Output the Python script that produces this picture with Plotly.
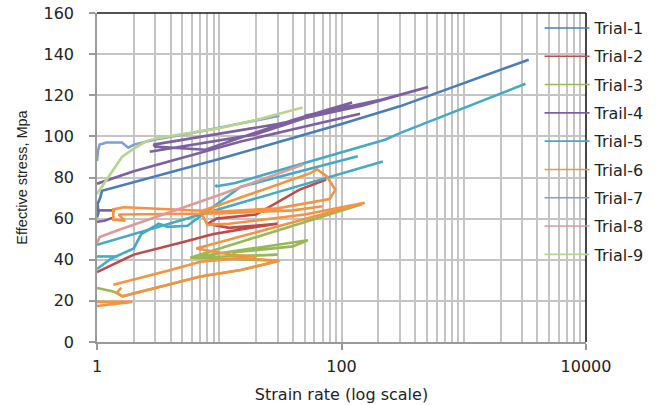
import plotly.graph_objects as go

# ---- data: strain rate (1/s) vs effective stress (MPa) per trial ----
# None separates disconnected pieces of the same trial record
trial1_rate = [1, 1.03, 1.01, 1.06, 1.1, 10, 100, 300, 3400]
trial1_stress = [60.5, 63, 67, 70, 73.5, 89, 106, 114.6, 137.3]

trial2_rate = [1, 1.5, 2, 5, 9, 20, 30, 12, 8, 9.5, 20, 45, 75]
trial2_stress = [34, 39, 42.5, 48.5, 52.5, 56, 57.5, 55.5, 57.5, 60, 62, 74, 79]

trial3_rate = [1, 1.36, 1.62, 7, 15, 31, 5.8, 53, 40, 13, 14, 30, 5.8, 147]
trial3_stress = [26.3, 24.6, 22.2, 31.9, 35, 39.5, 41, 49.5, 46.5, 43.5, 41.5, 42.5, 41, 67]

trial4_rate = [1, 1.15, 1.35, None, 1, 1.4, None,
               1, 2, 15, 60, 142, None,
               2.7, 20, 122, 40, 7.7, 3, 2.9, 30, 150, 511, 200, 50]
trial4_stress = [58.5, 59, 60.5, None, 64, 64, None,
                 77, 83, 97.5, 106, 111, None,
                 92.5, 101, 116.5, 108, 93.5, 95, 96, 106, 115, 124, 117.5, 110]

trial5_rate = [1, 1.46, None,
               1, 1.3, 2, 2.3, 3.2, 3.8, 5.5, 15, 136, None,
               1, 218, None,
               9.3, 9.5, 13.5, 227, 300, 3200]
trial5_stress = [41.6, 41.6, None,
                 35.5, 40.5, 45.5, 52.5, 57.5, 56, 56.5, 75.5, 90.3, None,
                 47.3, 87.8, None,
                 76.5, 75.7, 77.3, 98.4, 101.6, 125.6]

trial6_rate = [1, 1.95, 1, None,
               1.58, 1.45, 1.62, 7, 15, 31, 15, 7, 4, 1.36, None,
               20, 13, 6.5, 155, 50, 12, 8, 7, 55, 63, 76, 89, 80, 30, 10,
               1.65, 1.36, 1.36, 1.7, 1.5, 10, 40, 70]
trial6_stress = [17.5, 19.5, 19.5, None,
                 26.4, 24, 22.2, 31.9, 35, 39.5, 40.8, 39, 35, 27.8, None,
                 41.5, 42.3, 45.5, 67.7, 62, 57.5, 57, 63.5, 82, 84, 80.5, 74, 69.5, 65, 63.5,
                 65.5, 64.5, 59.5, 59, 62, 62.5, 64, 66]

trial7_rate = [1, 1.02, 1.05, 1.2, 1.6, 1.8, 2, 3, 7, 31]
trial7_stress = [88, 93, 96, 97, 97, 94.5, 96, 98.5, 102.4, 110]

trial8_rate = [1, 1.05, 1.5, 2.6, 10, 48.7]
trial8_stress = [48, 51, 54.5, 59.5, 71.5, 86.3]

trial9_rate = [1, 1.3, 1.6, 2, 2.5, 3, 5, 10, 20, 48]
trial9_stress = [72, 82, 90, 94, 97.5, 99, 101, 104, 108, 114]

trial_names = ["Trial-1", "Trial-2", "Trial-3", "Trail-4", "Trial-5",
               "Trial-6", "Trial-7", "Trial-8", "Trial-9"]
trial_rates = [trial1_rate, trial2_rate, trial3_rate, trial4_rate, trial5_rate,
               trial6_rate, trial7_rate, trial8_rate, trial9_rate]
trial_stresses = [trial1_stress, trial2_stress, trial3_stress, trial4_stress, trial5_stress,
                  trial6_stress, trial7_stress, trial8_stress, trial9_stress]
trial_colors = ["#4a7ebb", "#be4b48", "#98b954", "#7d60a0", "#46aac5",
                "#f69240", "#7f9fd4", "#dd9a98", "#b9d48f"]

x_tick_vals = [1, 100, 10000]
x_tick_text = ["1", "100", "10000"]
y_tick_vals = [0, 20, 40, 60, 80, 100, 120, 140, 160]

# every 1..9 x 10^k line that is not a labelled tick
x_minor_vals = [m * 10 ** k for k in range(4) for m in range(1, 10)
                if not (m == 1 and k % 2 == 0)]

FONT = "DejaVu Sans"
TXT = "#232323"
GRID = "#c4c4c4"

fig = go.Figure()

for name, xs, ys, col in zip(trial_names, trial_rates, trial_stresses, trial_colors):
    fig.add_trace(go.Scatter(
        x=xs, y=ys, mode="lines", name=name, showlegend=False,
        line=dict(color=col, width=2.6, shape="linear"),
        connectgaps=False, hoverinfo="skip"))

# legend keys drawn with thinner strokes, one group each so the gap spaces them
for name, col in zip(trial_names, trial_colors):
    fig.add_trace(go.Scatter(
        x=[None], y=[None], mode="lines", name=name, legendgroup=name,
        line=dict(color=col, width=1.6)))

fig.update_layout(
    width=659, height=405,
    margin=dict(l=97, r=73, t=13, b=63, autoexpand=False),
    paper_bgcolor="white", plot_bgcolor="white",
    font=dict(family=FONT, size=16, color=TXT),
    showlegend=True,
    legend=dict(x=0.905, xanchor="left", y=1.006, yanchor="top",
                bgcolor="rgba(0,0,0,0)", borderwidth=0,
                font=dict(family=FONT, size=16, color=TXT),
                itemwidth=45, tracegroupgap=4.5, traceorder="grouped",
                maxheight=390),
    xaxis=dict(type="log", range=[0, 4], automargin=False,
               tickvals=x_tick_vals, ticktext=x_tick_text,
               ticks="outside", ticklen=6, tickwidth=1.5, tickcolor="#9a9a9a",
               ticklabelstandoff=3,
               showline=True, linecolor="#9a9a9a", linewidth=1.5,
               showgrid=True, gridcolor=GRID, gridwidth=1.5,
               minor=dict(tickvals=x_minor_vals, showgrid=True,
                          gridcolor=GRID, gridwidth=1.5, ticks=""),
               zeroline=False,
               title=dict(text="Strain rate (log scale)",
                          font=dict(family=FONT, size=16, color=TXT),
                          standoff=14)),
    yaxis=dict(range=[0, 160], tickvals=y_tick_vals, automargin=False,
               ticks="outside", ticklen=6, tickwidth=1.5, tickcolor="#9a9a9a",
               ticklabelstandoff=12,
               showline=True, linecolor="#9a9a9a", linewidth=1.5,
               showgrid=True, gridcolor=GRID, gridwidth=1.5,
               zeroline=False,
               title=dict(text="Effective stress, Mpa",
                          font=dict(family="Liberation Sans", size=14.5, color=TXT),
                          standoff=12)),
    shapes=[
        dict(type="line", xref="paper", yref="paper", x0=0, x1=1, y0=1, y1=1,
             line=dict(color="#1a1a1a", width=1.6), layer="above"),
        dict(type="line", xref="paper", yref="paper", x0=1, x1=1, y0=0, y1=1,
             line=dict(color="#1a1a1a", width=1.6), layer="above"),
    ],
)

fig.write_html("out.html")
